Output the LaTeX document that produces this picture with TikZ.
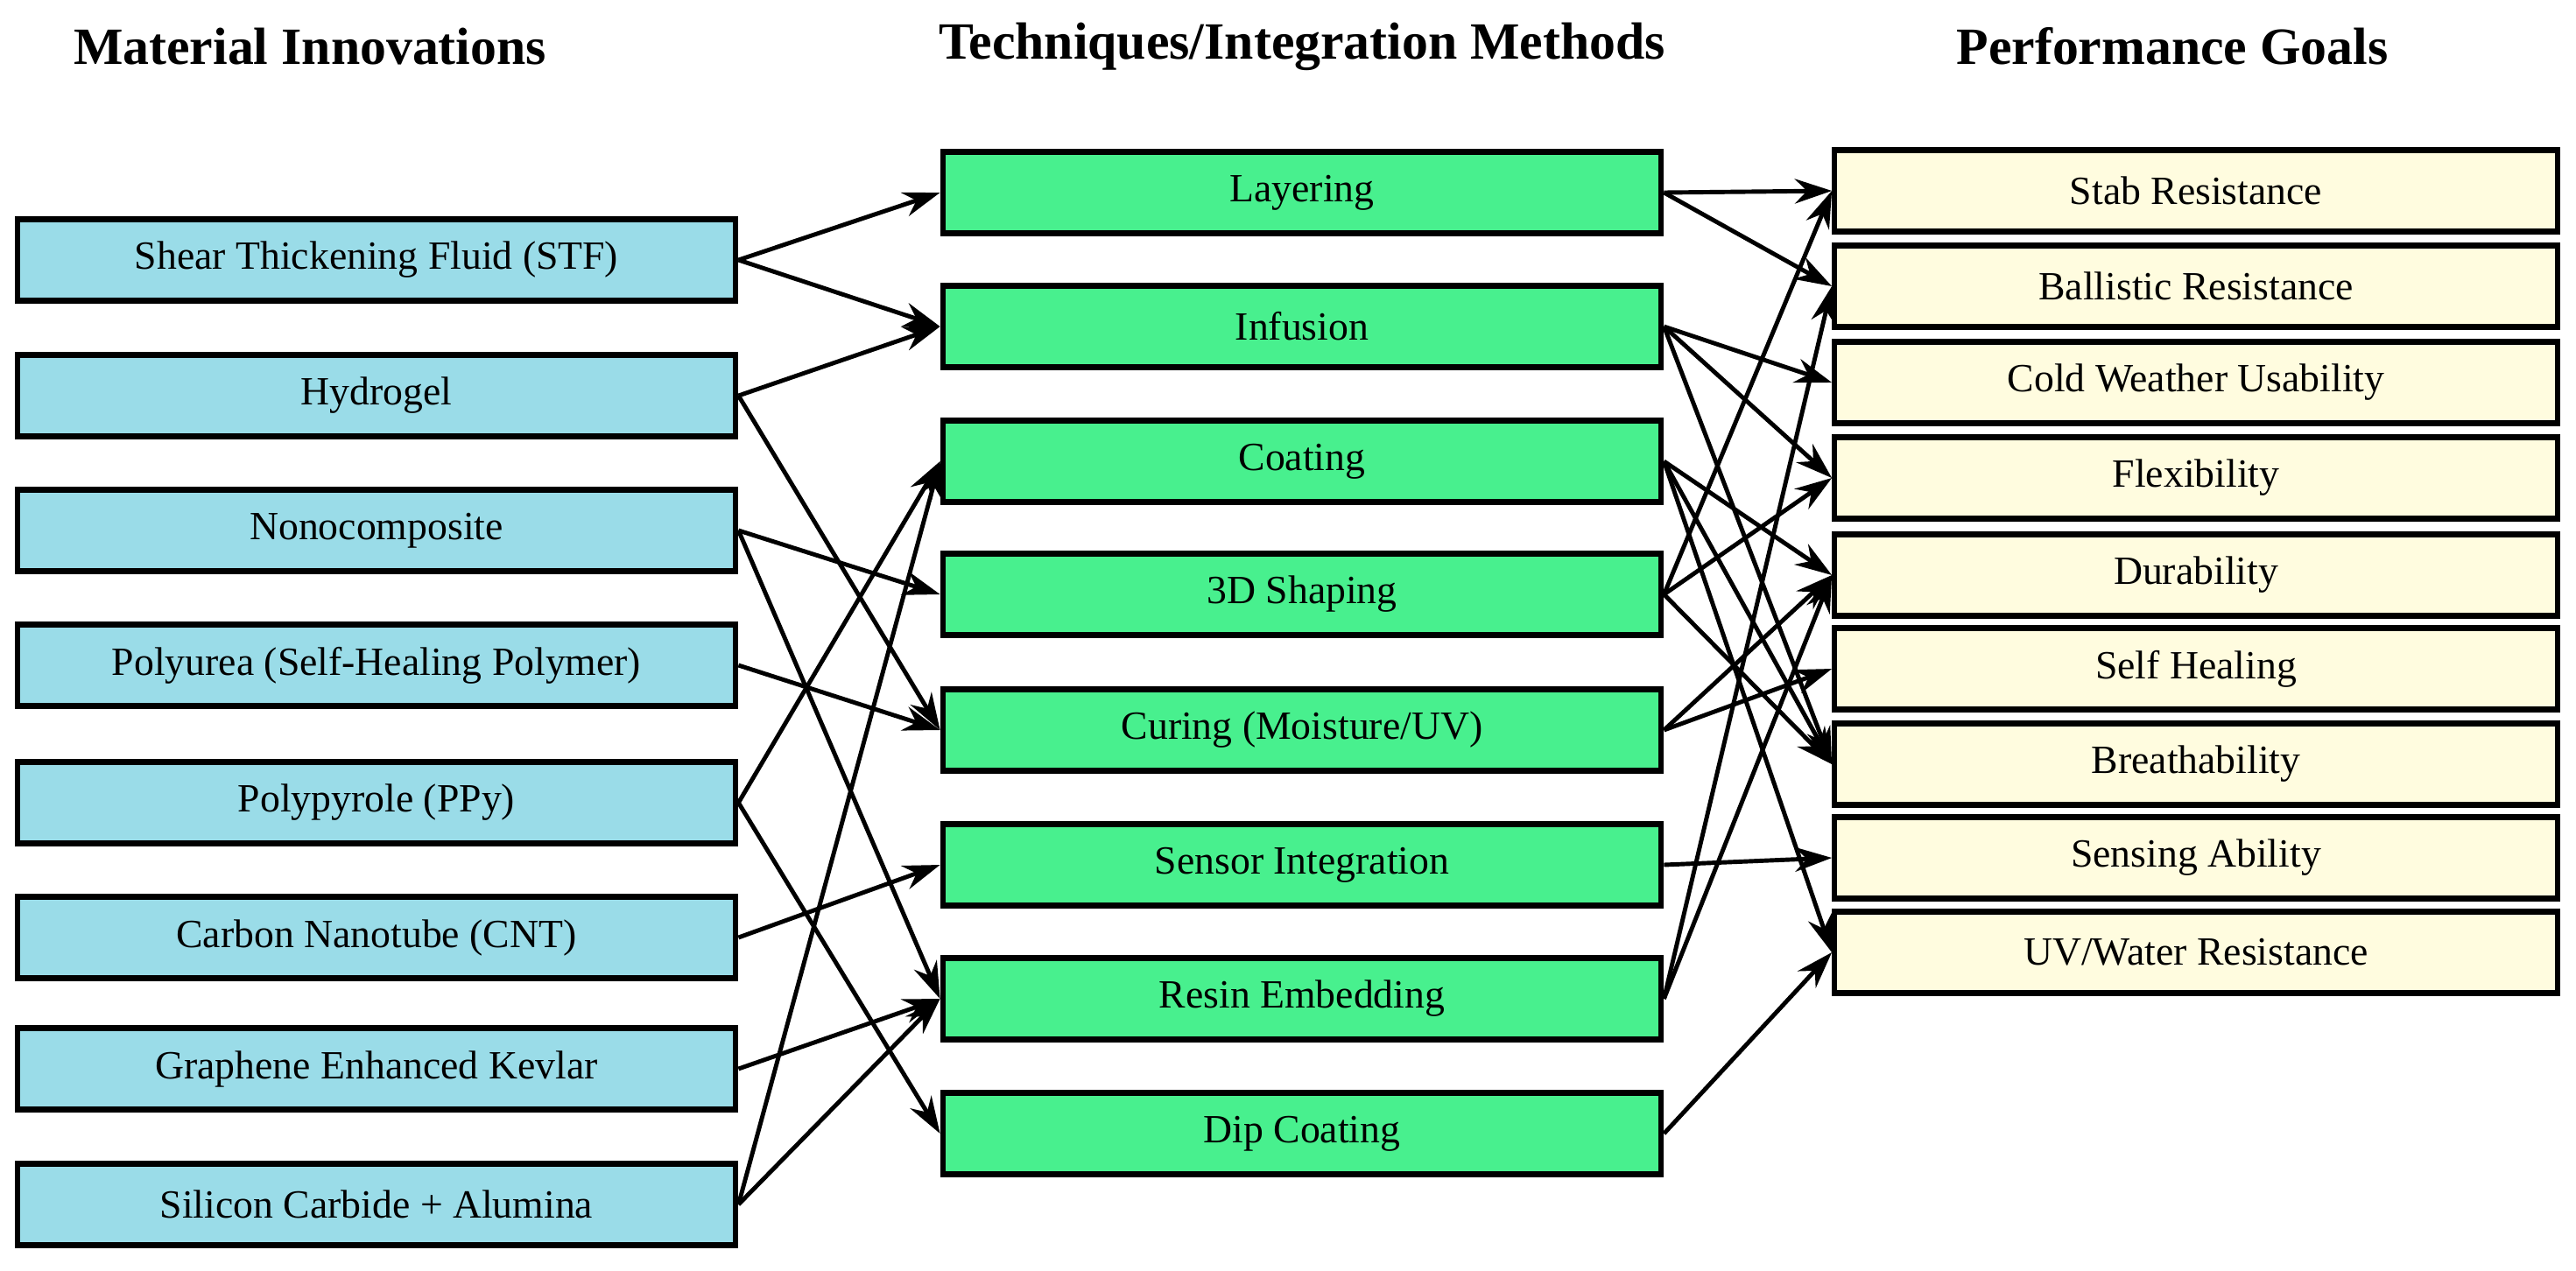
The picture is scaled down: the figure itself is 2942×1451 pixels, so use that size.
\documentclass[tikz,border=0pt]{standalone}
\usepackage{fontspec}
\setmainfont{Liberation Serif}
\usetikzlibrary{arrows.meta}
\definecolor{lb}{HTML}{9ADCE8}
\definecolor{gr}{HTML}{48F08E}
\definecolor{yl}{HTML}{FFFCDF}
\begin{document}
\begin{tikzpicture}[x=0.01cm,y=-0.01cm,
  box/.style={draw=black,line width=1.8pt,minimum height=0.93cm,inner sep=0pt,font=\fontsize{13}{15}\selectfont},
  L/.style={box,fill=lb,minimum width=8.2cm},
  M/.style={box,fill=gr,minimum width=8.2cm},
  R/.style={box,fill=yl,minimum width=8.25cm},
  title/.style={font=\fontsize{17}{20}\selectfont\bfseries},
  ar/.style={-{Stealth[length=12pt,width=8pt]},line width=1.4pt}]
\useasboundingbox (0,0) rectangle (2942,1451);
\node[title] (t1) at (354,53) {Material Innovations};
\node[title] (t2) at (1487,53) {Techniques/Integration Methods};
\node[title] (t3) at (2481,53) {Performance Goals};
\node[L] (l1) at (430,297) {Shear Thickening Fluid (STF)};
\node[L] (l2) at (430,452) {Hydrogel};
\node[L] (l3) at (430,606) {Nonocomposite};
\node[L] (l4) at (430,760) {Polyurea (Self-Healing Polymer)};
\node[L] (l5) at (430,917) {Polypyrole (PPy)};
\node[L] (l6) at (430,1071) {Carbon Nanotube (CNT)};
\node[L] (l7) at (430,1221) {Graphene Enhanced Kevlar};
\node[L] (l8) at (430,1376) {Silicon Carbide + Alumina};
\node[M] (m1) at (1487,220) {Layering};
\node[M] (m2) at (1487,373) {Infusion};
\node[M] (m3) at (1487,527) {Coating};
\node[M] (m4) at (1487,679) {3D Shaping};
\node[M] (m5) at (1487,834) {Curing (Moisture/UV)};
\node[M] (m6) at (1487,988) {Sensor Integration};
\node[M] (m7) at (1487,1141) {Resin Embedding};
\node[M] (m8) at (1487,1295) {Dip Coating};
\node[R] (r1) at (2508,218) {Stab Resistance};
\node[R] (r2) at (2508,327) {Ballistic Resistance};
\node[R] (r3) at (2508,437) {Cold Weather Usability};
\node[R] (r4) at (2508,546) {Flexibility};
\node[R] (r5) at (2508,657) {Durability};
\node[R] (r6) at (2508,764) {Self Healing};
\node[R] (r7) at (2508,873) {Breathability};
\node[R] (r8) at (2508,980) {Sensing Ability};
\node[R] (r9) at (2508,1088) {UV/Water Resistance};
\foreach \a/\b in {l1/m1,l1/m2,l2/m2,l2/m5,l3/m4,l3/m7,l4/m5,l5/m3,l5/m8,l6/m6,l7/m7,l8/m3,l8/m7,
  m1/r1,m1/r2,m2/r3,m2/r4,m2/r7,m3/r5,m3/r7,m3/r9,m4/r1,m4/r4,m4/r7,m5/r5,m5/r6,m6/r8,m7/r2,m7/r5,m8/r9}
  \draw[ar] (\a.east) -- (\b.west);
\end{tikzpicture}
\end{document}
